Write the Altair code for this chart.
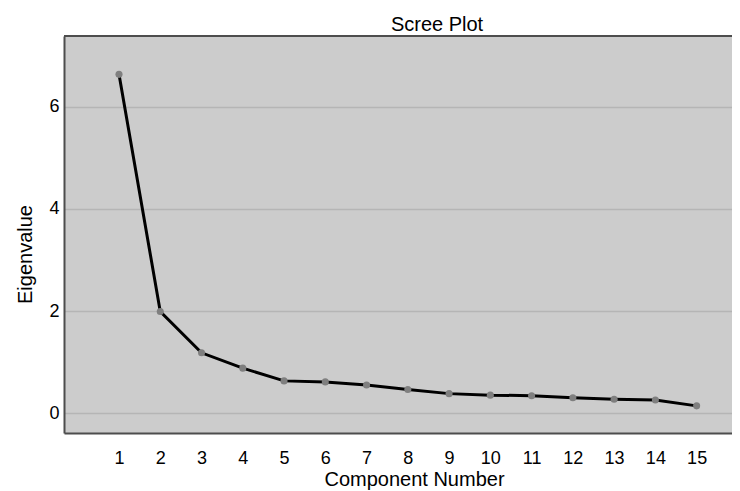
import altair as alt
import pandas as pd

components = list(range(1, 16))
eigenvalues = [6.64, 1.99, 1.18, 0.88, 0.63, 0.61, 0.55, 0.46, 0.38, 0.35, 0.34, 0.30, 0.27, 0.255, 0.14]
x_ticks = list(range(1, 16))
y_ticks = [0, 2, 4, 6]

df = pd.DataFrame({"component": components, "eigenvalue": eigenvalues})

W, H = 668, 397
FONT = "Liberation Sans"
AXIS_DARK = "#4d4d4d"

x_enc = alt.X(
    "component:Q",
    scale=alt.Scale(domain=[-0.333, 15.857], nice=False, zero=False),
    axis=alt.Axis(
        values=x_ticks, title="Component Number", grid=False, ticks=False,
        labelPadding=30, labelBaseline="alphabetic", labelFontSize=18,
        labelColor="black", labelFont=FONT, labelFlush=False, labelOverlap=False,
        titleFontSize=20, titleFontWeight="normal", titleColor="black", titleFont=FONT,
        titleX=350, titleY=52, titleBaseline="alphabetic", titleAlign="center",
        domainColor=AXIS_DARK, domainWidth=2,
    ),
)
y_enc = alt.Y(
    "eigenvalue:Q",
    scale=alt.Scale(domain=[-0.392, 7.392], nice=False, zero=False),
    axis=alt.Axis(
        values=y_ticks, title="Eigenvalue", grid=True, gridColor="#b5b5b5", gridWidth=1.5,
        ticks=False, labelPadding=5, labelFontSize=18, labelColor="black", labelFont=FONT,
        labelFlush=False, labelOverlap=False,
        titleFontSize=20, titleFontWeight="normal", titleColor="black", titleFont=FONT,
        titleX=-33, titleY=218, titleBaseline="alphabetic", titleAlign="center", titleAngle=270,
        domainColor=AXIS_DARK, domainWidth=2,
    ),
)

base = alt.Chart(df)
line = base.mark_line(color="black", strokeWidth=3).encode(x=x_enc, y=y_enc)
pts = base.mark_circle(color="#7f7f7f", size=50, opacity=1).encode(x="component:Q", y="eigenvalue:Q")
top_border = alt.Chart(df).mark_rule(color=AXIS_DARK, strokeWidth=2).encode(
    x=alt.value(0), x2=alt.value(W), y=alt.value(0)
)

chart = (
    alt.layer(line, pts, top_border)
    .properties(
        width=W, height=H,
        autosize=alt.AutoSizeParams(type="none"),
        padding={"left": 56, "top": 28, "right": 0, "bottom": 58},
        title=alt.Title(
            "Scree Plot", fontSize=20, fontWeight="normal", color="black", font=FONT,
            anchor="middle", frame="group", dx=39, dy=21, offset=5, baseline="alphabetic",
        ),
    )
    .configure_view(fill="#cccccc", strokeWidth=0)
)

chart.save("out.html", embed_options={"renderer": "svg", "actions": False})
